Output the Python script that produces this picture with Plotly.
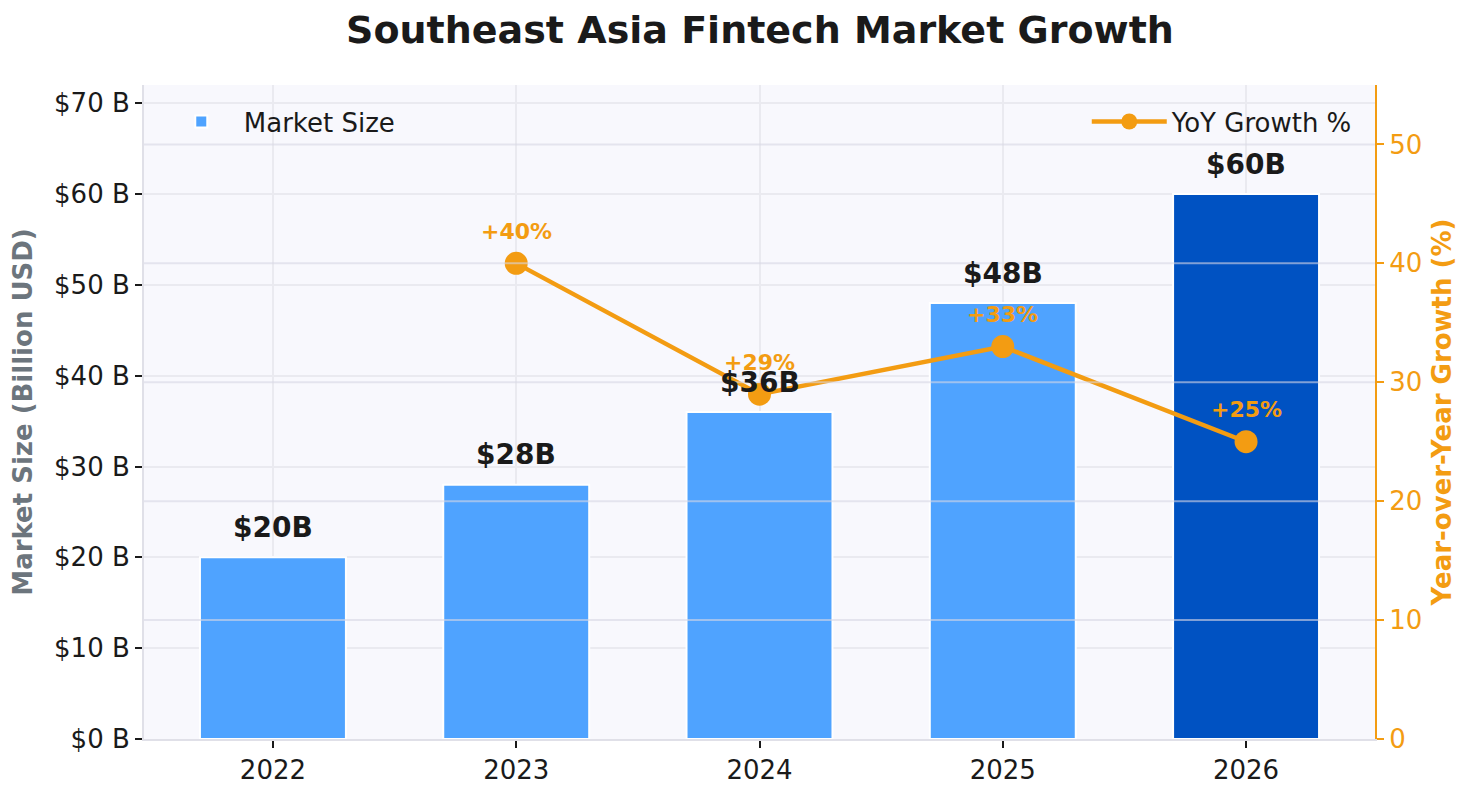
import plotly.graph_objects as go

years = ["2022", "2023", "2024", "2025", "2026"]
market_size = [20, 28, 36, 48, 60]
growth_years = ["2023", "2024", "2025", "2026"]
growth_pct = [40, 29, 33, 25]
bar_labels = ["$20B", "$28B", "$36B", "$48B", "$60B"]
growth_labels = ["+40%", "+29%", "+33%", "+25%"]
left_ticks = [0, 10, 20, 30, 40, 50, 60, 70]
left_tick_text = ["$0 B", "$10 B", "$20 B", "$30 B", "$40 B", "$50 B", "$60 B", "$70 B"]
right_ticks = [0, 10, 20, 30, 40, 50]

FONT = "DejaVu Sans"
ORANGE = "#F39C12"
LIGHT = "#4FA3FF"
DARK = "#0052C2"
TXT = "#1a1a1a"
bar_colors = [LIGHT, LIGHT, LIGHT, LIGHT, DARK]

fig = go.Figure()
fig.add_trace(go.Bar(
    x=years, y=market_size, name="Market Size",
    marker=dict(color=bar_colors, line=dict(color="white", width=2)),
    width=0.6, legend="legend", yaxis="y",
))
fig.add_trace(go.Scatter(
    x=growth_years, y=growth_pct, name="YoY Growth %",
    mode="lines+markers",
    line=dict(color=ORANGE, width=4.5),
    marker=dict(color=ORANGE, size=23),
    yaxis="y2", legend="legend2",
))

annotations = []
for x, v, t in zip(years, market_size, bar_labels):
    annotations.append(dict(x=years.index(x), y=v, xref="x", yref="y", text="<b>" + t + "</b>",
                            showarrow=False, yshift=30,
                            font=dict(family=FONT, size=28, color=TXT)))
for x, v, t in zip(growth_years, growth_pct, growth_labels):
    annotations.append(dict(x=years.index(x), y=v, xref="x", yref="y2", text="<b>" + t + "</b>",
                            showarrow=False, yshift=32,
                            font=dict(family=FONT, size=22, color=ORANGE)))

shapes = []
for t in right_ticks[1:]:
    shapes.append(dict(type="line", xref="x domain", yref="y2", x0=0, x1=1, y0=t, y1=t,
                       line=dict(color="rgba(215,215,228,0.6)", width=2), layer="above"))

fig.update_layout(
    width=1467, height=788,
    paper_bgcolor="white", plot_bgcolor="#F8F8FD",
    font=dict(family=FONT, size=26, color=TXT),
    margin=dict(l=136, r=100, t=77, b=57),
    title=dict(text="<b>Southeast Asia Fintech Market Growth</b>", x=0.5126, xanchor="center",
               y=1 - 22 / 788, yanchor="middle", font=dict(family=FONT, size=38, color=TXT)),
    xaxis=dict(
        type="category", range=[-0.53, 4.53],
        showgrid=True, gridcolor="#EAEAF0", gridwidth=1.5,
        ticks="outside", ticklen=7, tickcolor=TXT, tickwidth=1.5,
        showline=True, linecolor="#E0E0E8", linewidth=2,
        tickfont=dict(size=26, color=TXT),
    ),
    yaxis=dict(
        range=[0, 72], tickvals=left_ticks, ticktext=left_tick_text,
        showgrid=True, gridcolor="#EAEAF0", gridwidth=1.5,
        ticks="outside", ticklen=7, tickcolor=TXT, tickwidth=1.5,
        showline=True, linecolor="#E0E0E8", linewidth=2, zeroline=False,
        tickfont=dict(size=26, color=TXT),
        title=dict(text="<b>Market Size (Billion USD)</b>", font=dict(size=26, color="#6C757D"), standoff=14),
    ),
    yaxis2=dict(
        overlaying="y", side="right", range=[0, 55], tickvals=right_ticks,
        showgrid=False, zeroline=False,
        ticks="outside", ticklen=7, tickcolor=ORANGE, tickwidth=1.5,
        showline=True, linecolor=ORANGE, linewidth=2,
        tickfont=dict(size=26, color=ORANGE),
        title=dict(text="<b>Year-over-Year Growth (%)</b>", font=dict(size=26, color=ORANGE), standoff=12),
    ),
    legend=dict(x=0.012, y=0.98, xanchor="left", yanchor="top", bgcolor="rgba(0,0,0,0)",
                font=dict(size=26, color=TXT), itemwidth=75),
    legend2=dict(x=0.986, y=0.98, xanchor="right", yanchor="top", bgcolor="rgba(0,0,0,0)",
                 font=dict(size=26, color=TXT), itemwidth=75),
    annotations=annotations,
    shapes=shapes,
    showlegend=True,
)

fig.write_html("out.html")
